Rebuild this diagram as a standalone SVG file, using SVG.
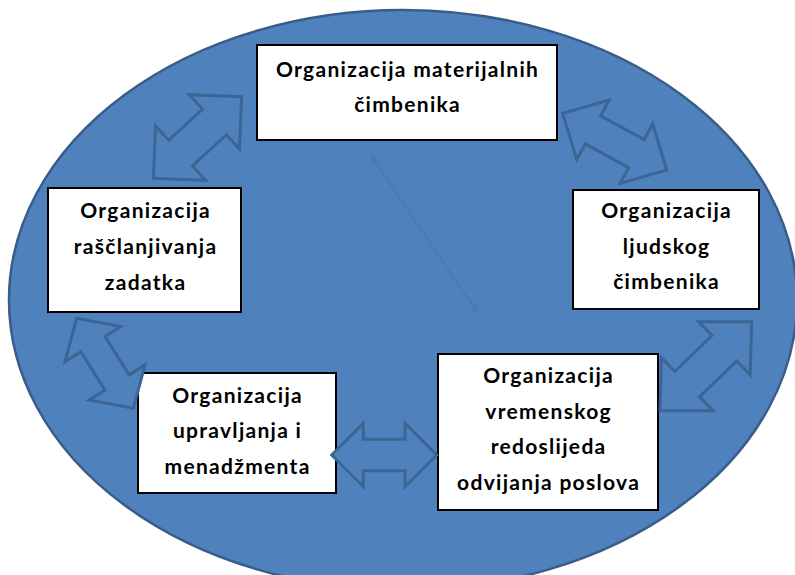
<svg xmlns="http://www.w3.org/2000/svg" width="795" height="575" viewBox="0 0 795 575">
  <defs>
    <style>
      .bg { fill: #4F81BD; stroke: #385D8A; stroke-width: 2.5; }
      .box { fill: #FFFFFF; stroke: #000000; stroke-width: 2; }
      .lbl { font-family: Lato, "Liberation Sans", sans-serif; font-weight: 700; font-size: 21px; letter-spacing: 1.3px; fill: #000000; text-anchor: middle; }
      .arr { fill: #4F81BD; stroke: #3C6594; stroke-width: 3; stroke-linejoin: miter; }
      .faint { fill: none; stroke: #4679B6; stroke-width: 1.5; }
    </style>
    <marker id="fh" viewBox="0 0 10 10" refX="9" refY="5" markerWidth="6" markerHeight="6" orient="auto-start-reverse">
      <path d="M0,0 L10,5 L0,10 z" fill="#4679B6"/>
    </marker>
  </defs>

  <rect x="0" y="0" width="795" height="575" fill="#FFFFFF"/>
  <ellipse class="bg" cx="403" cy="300" rx="394" ry="290"/>

  <g id="nodes">
    <g id="n-materijalni">
      <rect class="box" x="257" y="45" width="300" height="95"/>
      <text class="lbl" x="407.6" y="77">Organizacija materijalnih</text>
      <text class="lbl" x="407.6" y="112">čimbenika</text>
    </g>
    <g id="n-rasclanjivanje">
      <rect class="box" x="48" y="188" width="193" height="124"/>
      <text class="lbl" x="145.6" y="217.5">Organizacija</text>
      <text class="lbl" x="145.6" y="253.5">raščlanjivanja</text>
      <text class="lbl" x="145.6" y="289.5">zadatka</text>
    </g>
    <g id="n-ljudski">
      <rect class="box" x="573" y="190" width="186" height="119"/>
      <text class="lbl" x="666.6" y="218">Organizacija</text>
      <text class="lbl" x="666.6" y="253.5">ljudskog</text>
      <text class="lbl" x="666.6" y="289">čimbenika</text>
    </g>
    <g id="n-upravljanje">
      <rect class="box" x="138" y="373" width="198" height="120"/>
      <text class="lbl" x="237.6" y="402.5">Organizacija</text>
      <text class="lbl" x="237.6" y="438">upravljanja i</text>
      <text class="lbl" x="237.6" y="473.5">menadžmenta</text>
    </g>
    <g id="n-vremenski">
      <rect class="box" x="438" y="354" width="220" height="156"/>
      <text class="lbl" x="548.6" y="383">Organizacija</text>
      <text class="lbl" x="548.6" y="418.5">vremenskog</text>
      <text class="lbl" x="548.6" y="454">redoslijeda</text>
      <text class="lbl" x="548.6" y="489.5">odvijanja poslova</text>
    </g>
  </g>

  <g id="connectors">
    <line class="faint" x1="371" y1="156" x2="478" y2="313" marker-start="url(#fh)" marker-end="url(#fh)"/>
    <polygon class="arr" transform="translate(197.5,137.5) rotate(-42.7)"
      points="-60,0 -23,-37 -23,-17.5 23,-17.5 23,-37 60,0 23,37 23,17.5 -23,17.5 -23,37"/>
    <polygon class="arr" transform="translate(614.7,141.7) rotate(28.6)"
      points="-59.25,0 -24.75,-34 -24.75,-16 24.75,-16 24.75,-34 59.25,0 24.75,34 24.75,16 -24.75,16 -24.75,34"/>
    <polygon class="arr" transform="translate(105,363.3) rotate(57.8)"
      points="-53.15,0 -22.65,-33 -22.65,-14.3 22.65,-14.3 22.65,-33 53.15,0 22.65,33 22.65,14.3 -22.65,14.3 -22.65,33"/>
    <polygon class="arr" transform="translate(705.8,366.2) rotate(-44.1)"
      points="-63.85,0 -25.85,-37 -25.85,-17.7 25.85,-17.7 25.85,-37 63.85,0 25.85,37 25.85,17.7 -25.85,17.7 -25.85,37"/>
    <polygon class="arr" transform="translate(384.2,455)"
      points="-52.5,0 -20.9,-31.7 -20.9,-15.8 20.9,-15.8 20.9,-31.7 52.5,0 20.9,31.7 20.9,15.8 -20.9,15.8 -20.9,31.7"/>
  </g>
</svg>
